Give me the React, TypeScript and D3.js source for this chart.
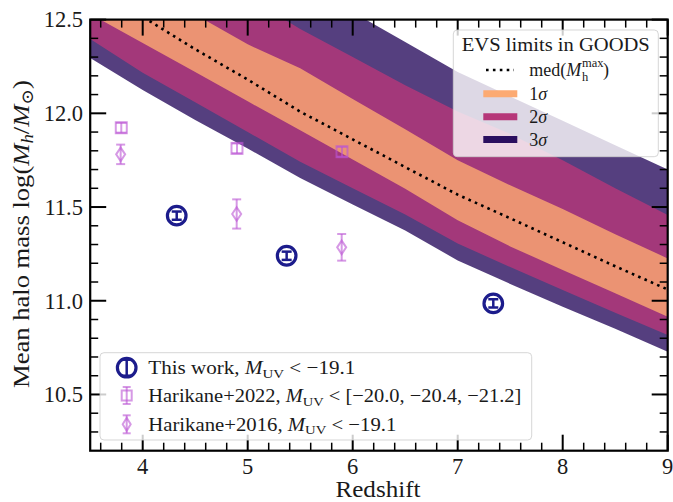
import React from 'react';
import * as d3 from 'd3';

// ---------- data ----------
const redshift = [3.5, 4.0, 4.5, 5.0, 5.5, 6.0, 6.5, 7.0, 7.5, 8.0, 8.5, 9.0];
const sig3Lo = [12.295, 12.125, 11.965, 11.812, 11.655, 11.514, 11.375, 11.215, 11.09, 10.968, 10.85, 10.728];
const sig2Lo = [12.396, 12.217, 12.059, 11.9, 11.742, 11.6, 11.46, 11.305, 11.18, 11.057, 10.936, 10.817];
const sig1Lo = [12.53, 12.375, 12.22, 12.064, 11.91, 11.754, 11.597, 11.43, 11.29, 11.164, 11.04, 10.915];
const medMax = [12.68, 12.515, 12.342, 12.18, 12.009, 11.861, 11.713, 11.566, 11.44, 11.312, 11.184, 11.06];
const sig1Hi = [12.85, 12.688, 12.527, 12.368, 12.24, 12.077, 11.915, 11.75, 11.616, 11.49, 11.355, 11.226];
const sig2Hi = [13.08, 12.925, 12.76, 12.62, 12.45, 12.3, 12.15, 12.01, 11.89, 11.75, 11.6, 11.457];
const sig3Hi = [13.34, 13.18, 13.02, 12.86, 12.7, 12.54, 12.38, 12.22, 12.09, 11.96, 11.83, 11.7];

const thisWorkZ = [4.324, 5.371, 7.339];
const thisWorkM = [11.454, 11.24, 10.986];
const thisWorkErr = [0.022, 0.022, 0.022];

const h22Z = [3.796, 4.898, 5.898];
const h22M = [11.923, 11.813, 11.795];
const h22Err = [0.026, 0.026, 0.026];

const h16Z = [3.79, 4.895, 5.895];
const h16M = [11.781, 11.463, 11.285];
const h16Err = [0.052, 0.078, 0.071];

const xTicks = [4, 5, 6, 7, 8, 9];
const yTicks = [10.5, 11.0, 11.5, 12.0, 12.5];

// ---------- styles ----------
const W = 673;
const H = 502;
const FONT = "'Liberation Serif', 'DejaVu Serif', 'Times New Roman', serif";
const C1 = '#fcaa72';
const C2 = '#b63779';
const C3 = '#2a0f5f';
const BAND_ALPHA = 0.8;
const NAVY = '#1c1c8c';
const ORCHID = '#ba55d3';
const ORCHID_ALPHA = 0.6;
const TXT = '#1a1a1a';

export default function App() {
  const x = d3.scaleLinear().domain([3.5, 9]).range([90.2, 667.7]);
  const y = d3.scaleLinear().domain([10.2, 12.5]).range([450.7, 19.6]);
  const [x0, x1] = x.range();
  const [y1, y0] = y.range();

  const band = (lo: number[], hi: number[]) =>
    d3
      .area<number>()
      .x((_, i) => x(redshift[i]))
      .y0((_, i) => y(lo[i]))
      .y1((_, i) => y(hi[i]))(redshift) as string;

  const medLine = d3
    .line<number>()
    .x((_, i) => x(redshift[i]))
    .y((_, i) => y(medMax[i]))(redshift) as string;

  const xMinor: number[] = [];
  for (let i = 18; i <= 45; i++) if (i % 5 !== 0) xMinor.push(i / 5);
  const yMinor: number[] = [];
  for (let i = 103; i <= 125; i++) if (i % 5 !== 0) yMinor.push(i / 10);

  const MAJ = 16;
  const MIN = 8;

  const errBar = (
    cx: number,
    yTop: number,
    yBot: number,
    capHalf: number,
    color: string,
    sw: number,
    opacity: number,
    key: string
  ) => (
    <g key={key} stroke={color} strokeWidth={sw} strokeOpacity={opacity}>
      <line x1={cx} x2={cx} y1={yTop} y2={yBot} />
      <line x1={cx - capHalf} x2={cx + capHalf} y1={yTop} y2={yTop} />
      <line x1={cx - capHalf} x2={cx + capHalf} y1={yBot} y2={yBot} />
    </g>
  );

  const diamond = (cx: number, cy: number, w: number, h: number) =>
    `M${cx},${cy - h / 2}L${cx + w / 2},${cy}L${cx},${cy + h / 2}L${cx - w / 2},${cy}Z`;

  // Legend 1 geometry
  const L1 = { x: 100, y: 352.7, w: 431.7, h: 87.3 };
  const l1Rows = [367.7, 395.5, 424.3];
  const l1Hx = 126.7;
  const l1Tx = 148.3;

  // Legend 2 geometry
  const L2 = { x: 453.3, y: 30, w: 205, h: 126.7 };
  const l2Rows = [70, 93.8, 116.8, 139.6];

  const ff = { fontFamily: FONT };

  return (
    <svg
      width={W}
      height={H}
      style={{ position: 'absolute', left: 0, top: 0, background: '#fff', fontFamily: FONT }}
    >
      <defs>
        <clipPath id="plotclip">
          <rect x={x0} y={y0} width={x1 - x0} height={y1 - y0} />
        </clipPath>
      </defs>
      <rect x={0} y={0} width={W} height={H} fill="#fff" />

      {/* bands */}
      <g clipPath="url(#plotclip)">
        <path d={band(sig3Lo, sig3Hi)} fill={C3} fillOpacity={BAND_ALPHA} />
        <path d={band(sig2Lo, sig2Hi)} fill={C2} fillOpacity={BAND_ALPHA} />
        <path d={band(sig1Lo, sig1Hi)} fill={C1} fillOpacity={BAND_ALPHA} />
        <path d={medLine} fill="none" stroke="#000" strokeWidth={2.6} strokeDasharray="2.6 4.3" />
      </g>

      {/* Harikane+2022 squares */}
      {h22Z.map((z, i) => {
        const cx = x(z);
        const cy = y(h22M[i]);
        return (
          <g key={'h22' + i}>
            {errBar(cx, y(h22M[i] + h22Err[i]), y(h22M[i] - h22Err[i]), 5.5, ORCHID, 2, ORCHID_ALPHA, 'e')}
            <rect x={cx - 5.5} y={cy - 5.5} width={11} height={11} fill="none" stroke={ORCHID} strokeOpacity={ORCHID_ALPHA} strokeWidth={2} />
          </g>
        );
      })}

      {/* Harikane+2016 diamonds */}
      {h16Z.map((z, i) => {
        const cx = x(z);
        const cy = y(h16M[i]);
        return (
          <g key={'h16' + i}>
            {errBar(cx, y(h16M[i] + h16Err[i]), y(h16M[i] - h16Err[i]), 4.5, ORCHID, 2, ORCHID_ALPHA, 'e')}
            <path d={diamond(cx, cy, 9, 13.5)} fill="none" stroke={ORCHID} strokeOpacity={ORCHID_ALPHA} strokeWidth={2} />
          </g>
        );
      })}

      {/* This work circles */}
      {thisWorkZ.map((z, i) => {
        const cx = x(z);
        const cy = y(thisWorkM[i]);
        return (
          <g key={'tw' + i}>
            {errBar(cx, y(thisWorkM[i] + thisWorkErr[i]), y(thisWorkM[i] - thisWorkErr[i]), 5, NAVY, 2.5, 1, 'e')}
            <circle cx={cx} cy={cy} r={9.3} fill="none" stroke={NAVY} strokeWidth={3.2} />
          </g>
        );
      })}

      {/* ticks */}
      <g stroke="#000">
        {xTicks.map((t) => (
          <g key={'xt' + t} strokeWidth={2}>
            <line x1={x(t)} x2={x(t)} y1={y1} y2={y1 - MAJ} />
            <line x1={x(t)} x2={x(t)} y1={y0} y2={y0 + MAJ} />
          </g>
        ))}
        {xMinor.map((t) => (
          <g key={'xm' + t} strokeWidth={1.5}>
            <line x1={x(t)} x2={x(t)} y1={y1} y2={y1 - MIN} />
            <line x1={x(t)} x2={x(t)} y1={y0} y2={y0 + MIN} />
          </g>
        ))}
        {yTicks.map((t) => (
          <g key={'yt' + t} strokeWidth={2}>
            <line x1={x0} x2={x0 + MAJ} y1={y(t)} y2={y(t)} />
            <line x1={x1} x2={x1 - MAJ} y1={y(t)} y2={y(t)} />
          </g>
        ))}
        {yMinor.map((t) => (
          <g key={'ym' + t} strokeWidth={1.5}>
            <line x1={x0} x2={x0 + MIN} y1={y(t)} y2={y(t)} />
            <line x1={x1} x2={x1 - MIN} y1={y(t)} y2={y(t)} />
          </g>
        ))}
      </g>

      {/* spines */}
      <rect x={x0} y={y0} width={x1 - x0} height={y1 - y0} fill="none" stroke="#000" strokeWidth={2.2} />

      {/* tick labels */}
      <g fontSize={22.5} fill={TXT} style={ff}>
        {xTicks.map((t) => (
          <text key={'xl' + t} x={x(t)} y={474} textAnchor="middle" style={ff}>
            {d3.format('d')(t)}
          </text>
        ))}
        {yTicks.map((t) => (
          <text key={'yl' + t} x={83} y={y(t) + 7.8} textAnchor="end" style={ff}>
            {d3.format('.1f')(t)}
          </text>
        ))}
      </g>

      {/* axis labels */}
      <text x={378} y={497} fontSize={23} textAnchor="middle" fill={TXT} textLength={85} lengthAdjust="spacingAndGlyphs" style={ff}>
        Redshift
      </text>
      <text
        transform="translate(29,234) rotate(-90)"
        fontSize={24}
        textAnchor="middle"
        fill={TXT}
        textLength={308}
        lengthAdjust="spacingAndGlyphs"
        style={ff}
      >
        <tspan>Mean halo mass log(</tspan>
        <tspan fontStyle="italic">M</tspan>
        <tspan fontStyle="italic" fontSize={17} dy={4}>h</tspan>
        <tspan dy={-4}>/</tspan>
        <tspan fontStyle="italic">M</tspan>
        <tspan fontSize={17} dy={4}>⊙</tspan>
        <tspan dy={-4}>)</tspan>
      </text>

      {/* Legend 1 */}
      <rect x={L1.x} y={L1.y} width={L1.w} height={L1.h} rx={4} fill="#fff" fillOpacity={0.8} stroke="#cccccc" strokeOpacity={0.8} strokeWidth={1} />
      {errBar(l1Hx, l1Rows[0] - 8, l1Rows[0] + 8, 5, NAVY, 2.5, 1, 'lg1')}
      <circle cx={l1Hx} cy={l1Rows[0]} r={9.3} fill="none" stroke={NAVY} strokeWidth={3.2} />
      {errBar(l1Hx, l1Rows[1] - 8.5, l1Rows[1] + 8.5, 4, ORCHID, 2, ORCHID_ALPHA, 'lg2')}
      <rect x={l1Hx - 5} y={l1Rows[1] - 5} width={10} height={10} fill="none" stroke={ORCHID} strokeOpacity={ORCHID_ALPHA} strokeWidth={2} />
      {errBar(l1Hx, l1Rows[2] - 9, l1Rows[2] + 9, 4, ORCHID, 2, ORCHID_ALPHA, 'lg3')}
      <path d={diamond(l1Hx, l1Rows[2], 8, 13)} fill="none" stroke={ORCHID} strokeOpacity={ORCHID_ALPHA} strokeWidth={2} />

      <g fontSize={19} fill={TXT}>
        <text x={l1Tx} y={l1Rows[0] + 6.5} textLength={207} lengthAdjust="spacingAndGlyphs" style={ff}>
          <tspan>This work, </tspan>
          <tspan fontStyle="italic">M</tspan>
          <tspan fontSize={13.5} dy={3.5}>UV</tspan>
          <tspan dy={-3.5}>{' < \u221219.1'}</tspan>
        </text>
        <text x={l1Tx} y={l1Rows[1] + 6.5} textLength={373} lengthAdjust="spacingAndGlyphs" style={ff}>
          <tspan>Harikane+2022, </tspan>
          <tspan fontStyle="italic">M</tspan>
          <tspan fontSize={13.5} dy={3.5}>UV</tspan>
          <tspan dy={-3.5}>{' < [\u221220.0, \u221220.4, \u221221.2]'}</tspan>
        </text>
        <text x={l1Tx} y={l1Rows[2] + 6.5} textLength={248} lengthAdjust="spacingAndGlyphs" style={ff}>
          <tspan>Harikane+2016, </tspan>
          <tspan fontStyle="italic">M</tspan>
          <tspan fontSize={13.5} dy={3.5}>UV</tspan>
          <tspan dy={-3.5}>{' < \u221219.1'}</tspan>
        </text>
      </g>

      {/* Legend 2 */}
      <rect x={L2.x} y={L2.y} width={L2.w} height={L2.h} rx={4} fill="#fff" fillOpacity={0.8} stroke="#cccccc" strokeOpacity={0.8} strokeWidth={1} />
      <text x={555.8} y={50.7} fontSize={18} textAnchor="middle" fill={TXT} textLength={188} lengthAdjust="spacingAndGlyphs" style={ff}>
        EVS limits in GOODS
      </text>
      <line x1={486} x2={514} y1={l2Rows[0]} y2={l2Rows[0]} stroke="#000" strokeWidth={2.6} strokeDasharray="2.6 4.3" />
      <line x1={483.3} x2={517.3} y1={l2Rows[1]} y2={l2Rows[1]} stroke={C1} strokeWidth={7} />
      <line x1={483.3} x2={517.3} y1={l2Rows[2]} y2={l2Rows[2]} stroke={C2} strokeWidth={7} />
      <line x1={483.3} x2={517.3} y1={l2Rows[3]} y2={l2Rows[3]} stroke={C3} strokeWidth={7} />
      <g fontSize={18} fill={TXT}>
        <text x={529.3} y={l2Rows[0] + 6} style={ff}>
          <tspan>med(</tspan>
          <tspan fontStyle="italic">M</tspan>
        </text>
        <text x={582} y={l2Rows[0] + 11} fontSize={12.5} style={ff}>h</text>
        <text x={582} y={l2Rows[0] - 3} fontSize={12.5} style={ff}>max</text>
        <text x={603} y={l2Rows[0] + 6} style={ff}>)</text>
        {['1', '2', '3'].map((n, i) => (
          <text key={'sg' + n} x={529.3} y={l2Rows[i + 1] + 6} style={ff}>
            <tspan>{n}</tspan>
            <tspan fontStyle="italic">σ</tspan>
          </text>
        ))}
      </g>
    </svg>
  );
}
